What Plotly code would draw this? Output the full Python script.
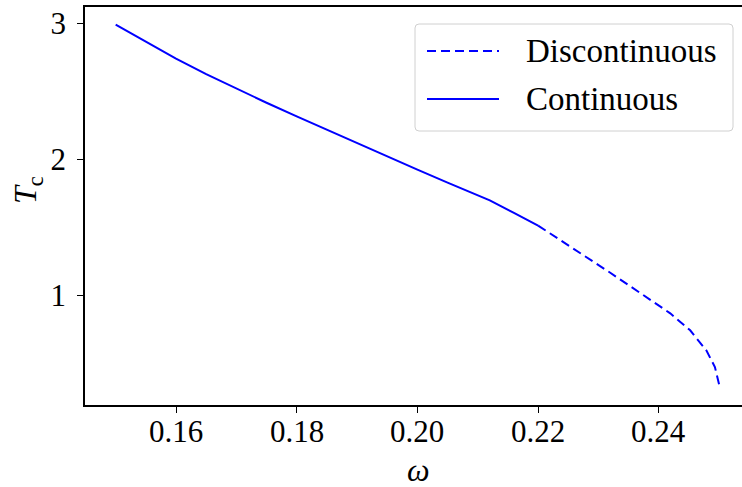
import plotly.graph_objects as go

# Critical temperature T_c versus omega
omega_cont = [0.150, 0.155, 0.160, 0.165, 0.170, 0.175, 0.180, 0.185, 0.190,
              0.195, 0.200, 0.205, 0.212, 0.216, 0.220]
tc_cont = [2.993, 2.866, 2.743, 2.629, 2.521, 2.418, 2.318, 2.219, 2.121,
           2.023, 1.926, 1.831, 1.701, 1.608, 1.515]

omega_disc = [0.2200, 0.2220, 0.2269, 0.2319, 0.2369, 0.2419, 0.2452, 0.2479, 0.2493, 0.2501]
tc_disc = [1.515, 1.458, 1.318, 1.170, 1.020, 0.870, 0.745, 0.596, 0.475, 0.328]

x_ticks = [0.16, 0.18, 0.20, 0.22, 0.24]
x_tick_text = ["0.16", "0.18", "0.20", "0.22", "0.24"]
y_ticks = [1, 2, 3]

legend_labels = ["Discontinuous", "Continuous"]

BLUE = "#0000ff"
FONT = "Liberation Serif"
W, H = 742, 487
L, R, T, B = 85, 0, 7, 82

fig = go.Figure()
fig.add_trace(go.Scatter(x=omega_cont, y=tc_cont, mode="lines",
                         line=dict(color=BLUE, width=2), showlegend=False))
fig.add_trace(go.Scatter(x=omega_disc, y=tc_disc, mode="lines",
                         line=dict(color=BLUE, width=2, dash="9px,5px"), showlegend=False))

# helpers: pixel -> paper coordinates of the plot area
pw, ph = W - L - R, H - T - B
def px(x):
    return (x - L) / pw
def py(y):
    return (H - B - y) / ph

# legend frame with rounded corners
x0, x1, y0, y1, r = 415, 733, 24, 131, 4
rx, ry = r / pw, r / ph
X0, X1, Y0, Y1 = px(x0), px(x1), py(y1), py(y0)
path = (f"M {X0+rx},{Y0} L {X1-rx},{Y0} Q {X1},{Y0} {X1},{Y0+ry} "
        f"L {X1},{Y1-ry} Q {X1},{Y1} {X1-rx},{Y1} "
        f"L {X0+rx},{Y1} Q {X0},{Y1} {X0},{Y1-ry} "
        f"L {X0},{Y0+ry} Q {X0},{Y0} {X0+rx},{Y0} Z")
fig.add_shape(type="path", path=path, xref="paper", yref="paper",
              line=dict(color="#d0d0d0", width=1), fillcolor="rgba(255,255,255,0.8)")

legend_rows = [51, 99]
legend_dash = ["9px,5px", "solid"]
for label, yy, dash in zip(legend_labels, legend_rows, legend_dash):
    fig.add_shape(type="line", xref="paper", yref="paper",
                  x0=px(427), x1=px(499), y0=py(yy), y1=py(yy),
                  line=dict(color=BLUE, width=2, dash=dash))
    fig.add_annotation(x=px(524), y=py(yy), xref="paper", yref="paper",
                       text=label, showarrow=False, xanchor="left", yanchor="middle",
                       font=dict(family=FONT, size=33, color="black"))

# x tick labels, placed at their tick values just under the axis
for val, txt in zip(x_ticks, x_tick_text):
    fig.add_annotation(x=val, y=py(432), xref="x", yref="paper",
                       text=txt, showarrow=False, xanchor="center", yanchor="middle",
                       font=dict(family=FONT, size=31, color="black"))

# axis titles
fig.add_annotation(x=px(418), y=py(470), xref="paper", yref="paper",
                   text="<i>ω</i>", showarrow=False, xanchor="center", yanchor="middle",
                   font=dict(family=FONT, size=32, color="black"))
fig.add_annotation(x=px(27), y=py(190), xref="paper", yref="paper",
                   text="<i>T</i><sub>c</sub>", showarrow=False, textangle=-90,
                   xanchor="center", yanchor="middle",
                   font=dict(family=FONT, size=32, color="black"))

fig.update_layout(
    width=W, height=H,
    margin=dict(l=L, r=R, t=T, b=B),
    paper_bgcolor="white", plot_bgcolor="white",
    font=dict(family=FONT, size=31, color="black"),
    xaxis=dict(range=[0.14492, 0.25379], tickvals=x_ticks, showticklabels=False,
               showgrid=False, zeroline=False, showline=True, linecolor="black",
               linewidth=1.5, mirror=True, ticks="outside", ticklen=6, tickwidth=1.2,
               tickcolor="black"),
    yaxis=dict(range=[0.196, 3.122], tickvals=y_ticks,
               showgrid=False, zeroline=False, showline=True, linecolor="black",
               linewidth=1.5, ticks="outside", ticklen=6, tickwidth=1.2,
               tickcolor="black", ticklabelstandoff=5),
)

fig.write_html("out.html")
